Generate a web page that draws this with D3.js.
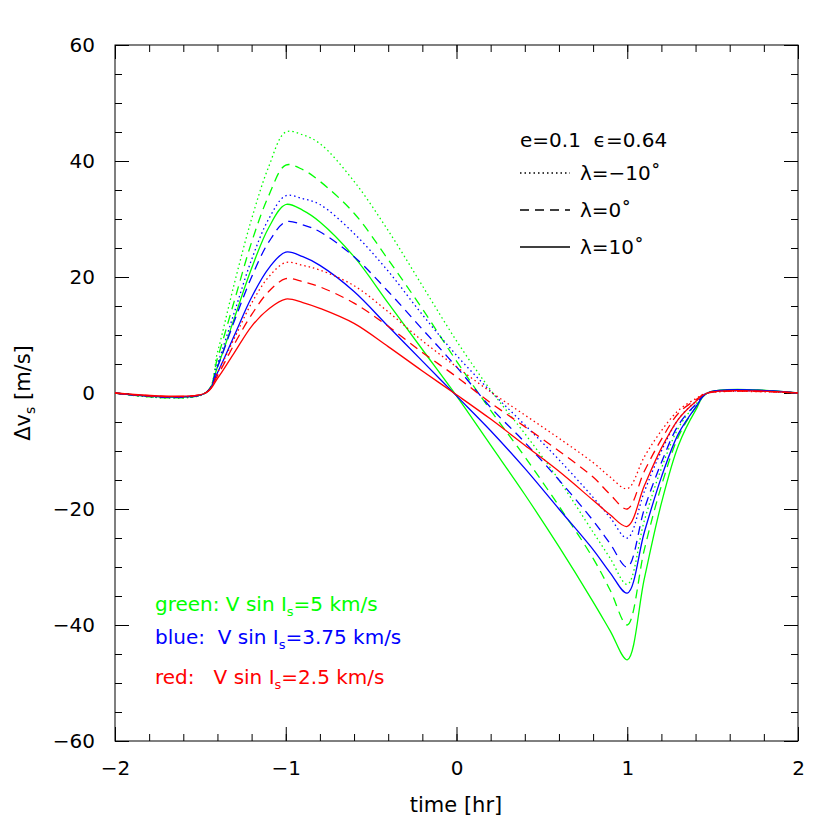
<!DOCTYPE html>
<html><head><meta charset="utf-8">
<script src="https://cdn.jsdelivr.net/npm/d3@7"></script>
<style>body{margin:0;background:#fff}text{font-family:"DejaVu Sans",sans-serif}</style>
</head><body><svg id="chart"></svg>
<script>
// time grid (hr) shared by every curve
const times = [-2,-1.47,-1.4,-1.3,-1.2,-1.1,-1,-0.9,-0.8,-0.6,-0.4,-0.2,0,0.2,0.4,0.6,0.8,0.9,1,1.1,1.2,1.3,1.4,1.47,2];
// green: V sin Is = 5 km/s
const greenDot  = [0,0,7,19,30,39,45,44.5,43,36.5,28,18.5,9,0.5,-7,-15,-24,-28.5,-33,-22,-13,-6,-2,0,0];
const greenDash = [0,0,6,16,26,34,39.3,38.5,36.5,31,23,14.5,5.5,-3,-11,-19.5,-28.5,-34,-40,-27,-16,-7.5,-2.5,0,0];
const greenSol  = [0,0,4.5,13,21.5,28.5,32.5,31.5,29.5,23.5,15.5,7.5,-0.5,-9,-17.5,-26.5,-36,-41,-46,-32,-19,-9,-3,0,0];
// blue: 3.75 km/s
const blueDot   = [0,0,5,14,23,30,34,33.5,32.5,27.5,21,13.5,6.5,0.3,-5.5,-11.5,-18,-21.5,-25,-17,-10,-4.5,-1.5,0,0];
const blueDash  = [0,0,4.5,12.5,20,26,29.5,29,27.8,23.5,17.5,11,4.5,-2.5,-8.5,-15,-22,-26,-30,-20,-12,-5.5,-2,0,0];
const blueSol   = [0,0,3.5,10,16.5,21.5,24.3,23.5,22,17.5,11.5,5.5,-0.5,-6.5,-13,-20,-27,-31,-34.5,-24,-14.5,-7,-2.5,0,0];
// red: 2.5 km/s
const redDot    = [0,0,3.5,9.5,15.5,20,22.5,22,21.2,18.5,14,9,4.5,0.2,-3.8,-7.8,-12,-14.5,-16.5,-11,-6.5,-3,-1,0,0];
const redDash   = [0,0,3,8.5,13.5,17.5,19.7,19.2,18.3,15.5,11.5,7,2.8,-1.7,-5.8,-10,-14.5,-17.5,-20,-13.5,-8,-3.5,-1.2,0,0];
const redSol    = [0,0,2.5,7,11.5,14.5,16.2,15.6,14.6,12,8,3.8,-0.3,-4.5,-9,-13.5,-18.5,-21,-23,-16,-9.5,-4.5,-1.5,0,0];

const xTicks = [-2,-1,0,1,2];
const yTicks = [-60,-40,-20,0,20,40,60];

const curves = [
  {v: greenDot, c: "#00ff00", d: "1.5,3"}, {v: greenDash, c: "#00ff00", d: "9,6"}, {v: greenSol, c: "#00ff00", d: null},
  {v: blueDot, c: "#0000ff", d: "1.5,3"}, {v: blueDash, c: "#0000ff", d: "9,6"}, {v: blueSol, c: "#0000ff", d: null},
  {v: redDot, c: "#ff0000", d: "1.5,3"}, {v: redDash, c: "#ff0000", d: "9,6"}, {v: redSol, c: "#ff0000", d: null}
];

const svg = d3.select("#chart").attr("width", 830).attr("height", 830);
const margin = {top: 45, right: 32, bottom: 89, left: 115};
const width = 830 - margin.left - margin.right, height = 830 - margin.top - margin.bottom;
const g = svg.append("g").attr("transform", "translate(" + margin.left + "," + margin.top + ")");

const x = d3.scaleLinear().domain([-2, 2]).range([0, width]);
const y = d3.scaleLinear().domain([-60, 60]).range([height, 0]);

// ticks on all four sides, pointing inward
const xMinor = d3.range(-2, 2.001, 0.2), yMinor = d3.range(-60, 60.1, 5);
[[d3.axisBottom(x), xMinor, xTicks, "translate(0," + height + ")", true],
 [d3.axisTop(x), xMinor, xTicks, "translate(0,0)", false],
 [d3.axisLeft(y), yMinor, yTicks, "translate(0,0)", true],
 [d3.axisRight(y), yMinor, yTicks, "translate(" + width + ",0)", false]].forEach(([ax, mn, mj, tr, lab]) => {
  const a = g.append("g").attr("transform", tr).call(ax.tickValues(mn).tickSize(-7).tickFormat(""));
  a.select(".domain").remove();
  const b = g.append("g").attr("transform", tr)
    .call(ax.tickValues(mj).tickSize(-14).tickPadding(20).tickFormat(lab ? (d => d < 0 ? "\u2212" + (-d) : d) : ""));
  b.select(".domain").remove();
  b.selectAll("text").attr("font-size", 20).attr("fill", "#000");
  g.selectAll("line").attr("stroke", "#000");
});
g.append("rect").attr("width", width).attr("height", height).attr("fill", "none").attr("stroke", "#000");

const line = d3.line().x((d, i) => x(times[i])).y(d => y(d)).curve(d3.curveCatmullRom.alpha(0.5));
curves.forEach(c => {
  g.append("path").datum(c.v).attr("d", line).attr("fill", "none")
    .attr("stroke", c.c).attr("stroke-width", 1.3).attr("stroke-dasharray", c.d);
});

// legend
svg.append("text").attr("x", 520).attr("y", 147).attr("font-size", 20).attr("xml:space", "preserve").text("e=0.1  \u03f5=0.64");
const leg = [["1.5,3", "\u03bb=\u221210\u02da"], ["9,6", "\u03bb=0\u02da"], [null, "\u03bb=10\u02da"]];
leg.forEach((l, i) => {
  const yy = 173 + i * 37;
  svg.append("line").attr("x1", 520).attr("x2", 570).attr("y1", yy).attr("y2", yy)
    .attr("stroke", "#000").attr("stroke-width", 1.3).attr("stroke-dasharray", l[0]);
  svg.append("text").attr("x", 580).attr("y", yy + 7).attr("font-size", 20).text(l[1]);
});
const notes = [["#00ff00", "green: V sin I", "=5 km/s", 611], ["#0000ff", "blue:  V sin I", "=3.75 km/s", 644], ["#ff0000", "red:   V sin I", "=2.5 km/s", 684]];
notes.forEach(n => {
  const t = svg.append("text").attr("x", 155).attr("y", n[3]).attr("font-size", 20).attr("fill", n[0]).attr("xml:space", "preserve");
  t.append("tspan").text(n[1]);
  t.append("tspan").attr("font-size", 13).attr("dy", 5).text("s");
  t.append("tspan").attr("dy", -5).text(n[2]);
});

// axis titles
svg.append("text").attr("x", 456).attr("y", 812).attr("text-anchor", "middle").attr("font-size", 21).text("time [hr]");
const yl = svg.append("text").attr("transform", "translate(30,393) rotate(-90)").attr("text-anchor", "middle").attr("font-size", 21);
yl.append("tspan").text("\u0394v");
yl.append("tspan").attr("font-size", 14).attr("dy", 5).text("s");
yl.append("tspan").attr("dy", -5).text(" [m/s]");
</script></body></html>
